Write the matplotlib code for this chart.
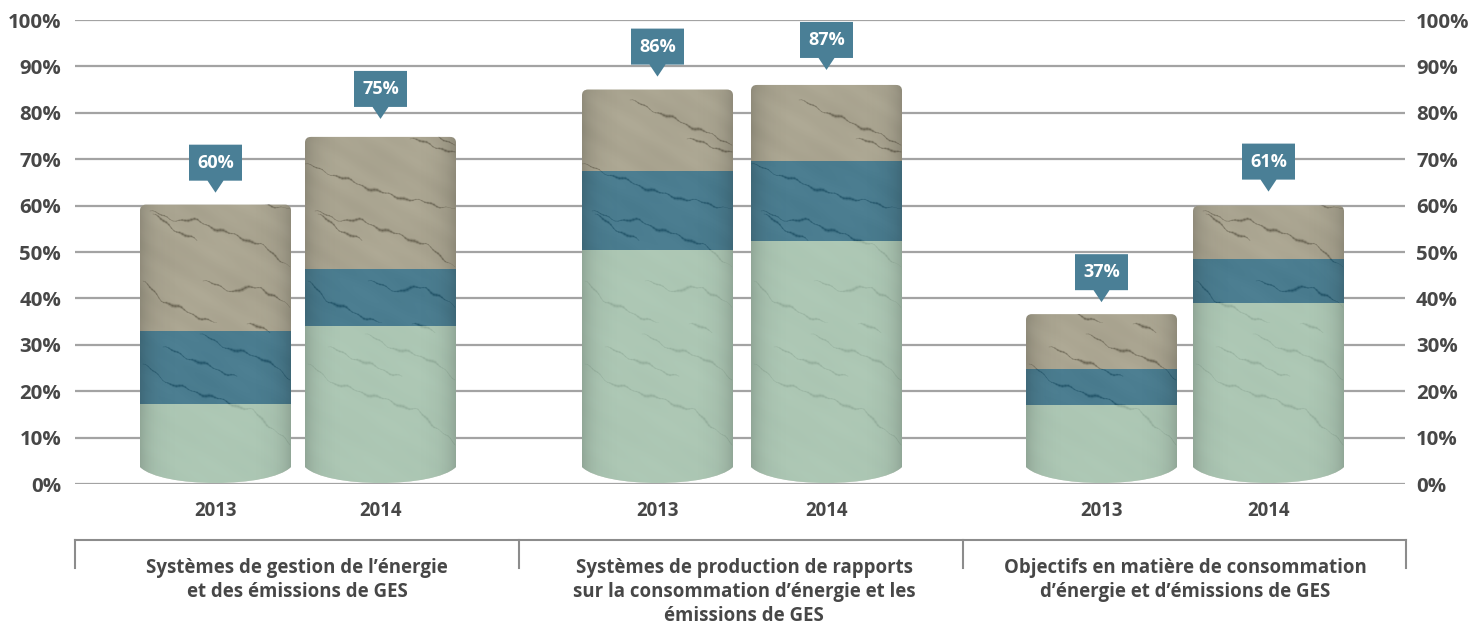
import numpy as np
import matplotlib
matplotlib.use("Agg")
import matplotlib.pyplot as plt
from matplotlib.path import Path
from matplotlib.patches import PathPatch
from matplotlib.collections import LineCollection

# ---- data ----
groups = ["Systèmes de gestion de l’énergie\net des émissions de GES",
          "Systèmes de production de rapports\nsur la consommation d’énergie et les\némissions de GES",
          "Objectifs en matière de consommation\nd’énergie et d’émissions de GES"]
years = ["2013", "2014", "2013", "2014", "2013", "2014"]
labels = [60, 75, 86, 87, 37, 61]
green_vals = [17.2, 34.0, 50.4, 52.4, 17.0, 39.0]
blue_vals = [15.8, 12.3, 17.1, 17.2, 7.8, 9.5]
tan_vals = [27.2, 28.5, 17.5, 16.4, 11.8, 11.5]
y_ticks = list(range(0, 101, 10))

# ---- layout (reference pixels) ----
W, H = 1475, 624
AX_L, AX_R, AX_T, AX_B = 75, 1405, 20, 484
PX = 100 / (AX_B - AX_T)
centers = [215.5, 380.5, 657.5, 826.5, 1101.5, 1268.5]
BAR_W = 151
callout_gap = [12, 18, 13, 15, 12, 14]
group_x = [297, 744, 1185]
bracket_x = [75, 519, 963, 1406]
INK = "#474747"
C_GREEN, C_BLUE, C_TAN = "#a6c5b0", "#1d607c", "#90876b"
BASE = "#dcdcd4"
C_CALL = "#4a7f96"

# marble veins (dx from bar left, px up from bar bottom) -- purely decorative texture
veins = [
    [(10,273),(30,265),(57,263),(90,250),(120,240),(150,217)],
    [(13,270),(37,253),(57,243)],
    [(3,203),(23,183),(57,168),(77,160)],
    [(63,203),(93,193),(120,197),(150,177)],
    [(107,160),(130,153)],
    [(23,137),(63,120),(97,107)],
    [(3,120),(30,100),(63,90),(113,73),(133,55),(150,40)],
    [(105,345),(125,340),(150,330)],
    [(48,384),(80,370),(118,354),(150,340)],
    [(0,320),(40,305),(80,290),(150,275)],
    [(60,150),(90,135),(125,125),(150,105)],
]

plt.rcParams["font.family"] = ["Open Sans", "DejaVu Sans"]
fig = plt.figure(figsize=(W / 100, H / 100), dpi=100)
ax = fig.add_axes([AX_L / W, 1 - AX_B / H, (AX_R - AX_L) / W, (AX_B - AX_T) / H])
ax.set_xlim(AX_L, AX_R)
ax.set_ylim(0, 100)
for s in ax.spines.values():
    s.set_visible(False)
ax.set_axisbelow(True)
ax.yaxis.grid(True, color="#a3a3a3", lw=1.6)
ax.set_yticks(y_ticks)
ax.set_yticklabels([f"{v}%" for v in y_ticks])
ax.tick_params(axis="y", length=0, pad=10, labelsize=14.7, labelcolor=INK)
ax.set_xticks(centers)
ax.set_xticklabels(years)
ax.tick_params(axis="x", length=0, pad=12, labelsize=13.4, labelcolor=INK)
for t in ax.get_yticklabels() + ax.get_xticklabels():
    t.set_fontweight("bold")

axr = ax.twinx()
axr.set_ylim(0, 100)
axr.set_yticks(y_ticks)
axr.set_yticklabels([f"{v}%" for v in y_ticks], fontweight="bold")
axr.tick_params(axis="y", length=0, pad=8, labelsize=14.7, labelcolor=INK)
for s in axr.spines.values():
    s.set_visible(False)


def bar_outline(x0, x1, top):
    r = 6
    ry = r * PX
    edge = 17 * PX
    ctrl = -4.3 * PX
    verts = [(x0, edge), (x0, top - ry), (x0, top), (x0 + r, top), (x1 - r, top),
             (x1, top), (x1, top - ry), (x1, edge),
             (x1 - 22, ctrl), (x0 + 22, ctrl), (x0, edge), (x0, edge)]
    codes = [Path.MOVETO, Path.LINETO, Path.CURVE3, Path.CURVE3, Path.LINETO,
             Path.CURVE3, Path.CURVE3, Path.LINETO,
             Path.CURVE4, Path.CURVE4, Path.CURVE4, Path.CLOSEPOLY]
    return Path(verts, codes)


# edge shading
shade_x = np.linspace(-1, 1, 151)
shade = np.zeros((1, 151, 4))
shade[0, :, 3] = 0.16 * np.abs(shade_x) ** 6

# soft diagonal mottling of the stone
gy, gx = np.mgrid[0:420:2, 0:151:1]
diag = gx * 0.45 + gy
mott = (np.sin(diag / 9.0) + 0.7 * np.sin(diag / 3.7 + gx / 21.0) + 0.6 * np.sin(gx / 13.0 - gy / 31.0))
mottle = np.zeros(mott.shape + (4,))
mottle[..., :3] = 0.25
mottle[..., 3] = np.clip(0.06 + 0.03 * mott, 0, 1)


def vein_collection(v, x0):
    p = np.array(v, dtype=float)
    s = np.r_[0, np.cumsum(np.hypot(*np.diff(p, axis=0).T))]
    t = np.linspace(0, s[-1], max(int(s[-1] / 3), 6))
    xs = np.interp(t, s, p[:, 0])
    ys = np.interp(t, s, p[:, 1]) + 1.3 * np.sin(t / 6.0) + 0.8 * np.sin(t / 2.3)
    pts = np.column_stack([x0 + xs, ys * PX])
    segs = np.stack([pts[:-1], pts[1:]], axis=1)
    u = t[:-1] / s[-1]
    taper = np.sin(np.pi * np.clip(u, 0.03, 0.97)) ** 0.6 * (0.65 + 0.35 * np.sin(t[:-1] / 5.0))
    return segs, taper


for i, c in enumerate(centers):
    total = green_vals[i] + blue_vals[i] + tan_vals[i]
    x0, x1 = c - BAR_W / 2, c + BAR_W / 2
    clip = PathPatch(bar_outline(x0, x1, total), transform=ax.transData, fc="none", ec="none")
    ax.add_patch(clip)

    base = ax.bar(c, total + 1, BAR_W, color=BASE, zorder=3, lw=0)
    for b in base:
        b.set_clip_path(clip)
    mi = ax.imshow(mottle, extent=(x0, x1, 420 * PX, 0), aspect="auto", origin="upper",
                   zorder=3.2, interpolation="bilinear")
    mi.set_clip_path(clip)
    for v in veins:
        segs, taper = vein_collection(v, x0)
        for k, a in ((3.4, 0.13), (2.0, 0.22), (0.9, 0.45)):
            lc = LineCollection(segs, colors="#1c1c1c", linewidths=k * taper, alpha=a,
                                zorder=3.5, capstyle="round")
            ax.add_collection(lc)
            lc.set_clip_path(clip)

    bottom = 0
    for vals, col, alpha in ((green_vals, C_GREEN, 0.85), (blue_vals, C_BLUE, 0.75), (tan_vals, C_TAN, 0.6)):
        extra = 1 if col == C_TAN else 0
        bs = ax.bar(c, vals[i] + extra, BAR_W, bottom=bottom, color=col, alpha=alpha, zorder=4, lw=0)
        for b in bs:
            b.set_clip_path(clip)
        bottom += vals[i]

    im = ax.imshow(shade, extent=(x0, x1, 0, total), aspect="auto", zorder=5, interpolation="bilinear")
    im.set_clip_path(clip)

    # callout
    tip = total + callout_gap[i] * PX
    hw, ph, bh = 26.5, 12 * PX, 36 * PX
    pw = 8
    ax.add_patch(PathPatch(Path(
        [(c, tip), (c + pw, tip + ph), (c + hw, tip + ph), (c + hw, tip + ph + bh),
         (c - hw, tip + ph + bh), (c - hw, tip + ph), (c - pw, tip + ph), (c, tip)],
        [Path.MOVETO] + [Path.LINETO] * 6 + [Path.CLOSEPOLY]),
        fc=C_CALL, ec="none", zorder=6))
    ax.text(c, tip + ph + bh / 2, f"{labels[i]}%", color="white", fontsize=13, fontweight="bold",
            ha="center", va="center", zorder=7)

ax.set_xlim(AX_L, AX_R)
ax.set_ylim(0, 100)


# bracket
def py(y):
    return (AX_B - y) * PX


ax.plot([bracket_x[0], bracket_x[-1]], [py(540)] * 2, color="#8c8c8c", lw=1.5, clip_on=False)
for bx in bracket_x:
    ax.plot([bx, bx], [py(540), py(568)], color="#8c8c8c", lw=1.5, clip_on=False)
for gx_, g in zip(group_x, groups):
    ax.text(gx_, py(558), g, ha="center", va="top", fontsize=13.4, fontweight="bold",
            color=INK, linespacing=1.27, clip_on=False)

fig.savefig("out.png", dpi=100)
